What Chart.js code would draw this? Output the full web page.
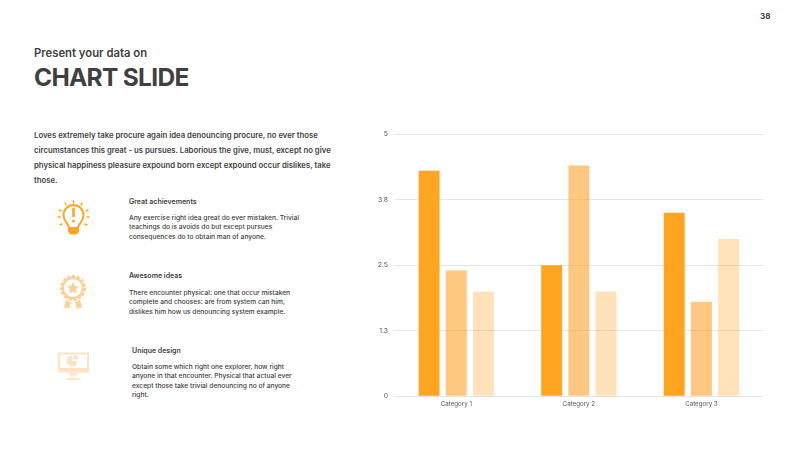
<!DOCTYPE html>
<html>
<head>
<meta charset="utf-8">
<title>Chart slide</title>
<script src="https://cdn.jsdelivr.net/npm/chart.js@4"></script>
<style>
    html, body { margin: 0; padding: 0; background: #fff; }
    body { position: relative; width: 800px; height: 450px; overflow: hidden; font-family: Inter, "Noto Sans", sans-serif; color: #3f3f3f; }
    .abs { position: absolute; white-space: nowrap; }
    .page-no { left: 760px; top: 11px; font-size: 8px; line-height: 10px; font-weight: 700; }
    .sub { left: 34px; top: 45px; font-size: 11.3px; line-height: 16px; font-weight: 600; }
    .title { left: 34px; top: 60px; font-size: 24.5px; line-height: 34px; font-weight: 700; letter-spacing: -0.7px; }
    .intro { left: 34px; top: 127.5px; font-size: 7.75px; line-height: 15px; font-weight: 600; }
    .head { font-size: 7px; line-height: 10px; font-weight: 600; }
    .text { font-size: 6.65px; line-height: 9.4px; font-weight: 500; }
    #chartCanvas { position: absolute; left: 360px; top: 120px; }
    svg { position: absolute; left: 0; top: 0; }
</style>
</head>
<body>
<div class="abs page-no">38</div>
<div class="abs sub">Present your data on</div>
<div class="abs title">CHART SLIDE</div>
<div class="abs intro">Loves extremely take procure again idea denouncing procure, no ever those<br>circumstances this great - us pursues. Laborious the give, must, except no give<br>physical happiness pleasure expound born except expound occur dislikes, take<br>those.</div>

<div class="abs head" style="left:129px;top:197px">Great achievements</div>
<div class="abs text" style="left:129px;top:214px">Any exercise right idea great do ever mistaken. Trivial<br>teachings do is avoids do but except pursues<br>consequences do to obtain man of anyone.</div>

<div class="abs head" style="left:129px;top:270.500px">Awesome ideas</div>
<div class="abs text" style="left:129px;top:289px">There encounter physical: one that occur mistaken<br>complete and chooses: are from system can him,<br>dislikes him how us denouncing system example.</div>

<div class="abs head" style="left:132px;top:346px">Unique design</div>
<div class="abs text" style="left:132px;top:363px">Obtain some which right one explorer, how right<br>anyone in that encounter. Physical that actual ever<br>except those take trivial denouncing no of anyone<br>right.</div>

<svg width="800" height="450" viewBox="0 0 800 450">
    <!-- bulb -->
    <g fill="none" stroke="#ffa51f" stroke-width="2" stroke-linecap="round">
        <path d="M69 228 C69 224 63.500 222 63.500 215 A10 10 0 0 1 83.500 215 C83.500 222 78 224 78 228 Z"/>
        <path stroke-width="1.4" d="M73.500 203v-2M66 205l-1-2M81 205l1-2M61 211l-2-1M86 211l2-1M60 217h-2M87 217h2M62 224l-2 1M85 224l2 1" />
        <path d="M73.500 209v7" stroke-width="2.600"/>
    </g>
    <circle cx="73.500" cy="221" r="1.500" fill="#ffa51f"/>
    <path d="M68 229h11v2.500a4 4 0 0 1-3 3h-5a4 4 0 0 1-3-3z" fill="#ffa51f"/>
    <!-- medal -->
    <g fill="none" stroke="#ffcf95">
        <circle cx="73" cy="288" r="11.500" stroke-width="3" stroke-dasharray="3.200 1.600"/>
        <circle cx="73" cy="288" r="10" stroke-width="2"/>
    </g>
    <path d="M73 282l1.800 3.900 4.200.5-3.100 2.900.8 4.200-3.700-2.100-3.700 2.100.8-4.200-3.100-2.900 4.200-.5z" fill="#ffcf95"/>
    <path d="M66 300l5 2-2 7-2-1.500-3 .5zM80 300l-5 2 2 7 2-1.500 3 .5z" fill="#ffcf95"/>
    <!-- monitor -->
    <rect x="59" y="353.500" width="29" height="18" fill="none" stroke="#ffe3c4" stroke-width="2"/>
    <rect x="59" y="368" width="29" height="4" fill="#ffe3c4"/>
    <path d="M72 355.500a5.500 5.500 0 1 0 5.500 5.500h-5.500z" fill="#ffe3c4"/>
    <path d="M73.500 354.500a5 5 0 0 1 5 5h-5z" fill="#ffe3c4"/>
    <path d="M70 373h7v2.500h-7zM66 380a7.500 2.500 0 0 1 15 0z" fill="#ffe3c4"/>
</svg>

<canvas id="chartCanvas" width="420" height="300"></canvas>

<script>
// chart values
const categories = ['Category 1', 'Category 2', 'Category 3'];
const series1 = [4.3, 2.5, 3.5];
const series2 = [2.4, 4.4, 1.8];
const series3 = [2, 2, 3];
const yTicks = [0, 1.25, 2.5, 3.75, 5];
const yTickLabels = ['0', '1.3', '2.5', '3.8', '5'];

const chartCtx = document.getElementById('chartCanvas').getContext('2d');
const fontFamily = 'Inter, "Noto Sans", sans-serif';

const slideChart = new Chart(chartCtx, {
    type: 'bar',
    data: {
        labels: categories,
        datasets: [
            { label: 'Series 1', data: series1, backgroundColor: '#ffa51f' },
            { label: 'Series 2', data: series2, backgroundColor: 'rgba(255, 155, 25, 0.55)' },
            { label: 'Series 3', data: series3, backgroundColor: 'rgba(255, 155, 25, 0.3)' }
        ]
    },
    options: {
        responsive: false,
        animation: false,
        layout: { padding: { top: 14, right: 17.3, bottom: 0, left: 0 } },
        plugins: { legend: { display: false }, tooltip: { enabled: false } },
        datasets: { bar: { categoryPercentage: 0.666, barPercentage: 0.77 } },
        scales: {
            x: {
                grid: { display: false, drawTicks: false },
                border: { color: '#e4e4e4' },
                ticks: { color: '#555', font: { family: fontFamily, size: 6.2 }, padding: 4, maxRotation: 0 },
                afterFit: function(scale) { scale.height = 23.7; }
            },
            y: {
                min: 0,
                max: 5,
                grid: { color: '#e6e6e6', drawTicks: false },
                border: { display: false },
                afterBuildTicks: function(scale) { scale.ticks = yTicks.map(v => ({ value: v })); },
                ticks: {
                    color: '#555',
                    font: { family: fontFamily, size: 6.8 },
                    padding: 7,
                    callback: function(value) { return yTickLabels[yTicks.indexOf(value)]; }
                },
                afterFit: function(scale) { scale.width = 35; }
            }
        }
    }
});
</script>
</body>
</html>
